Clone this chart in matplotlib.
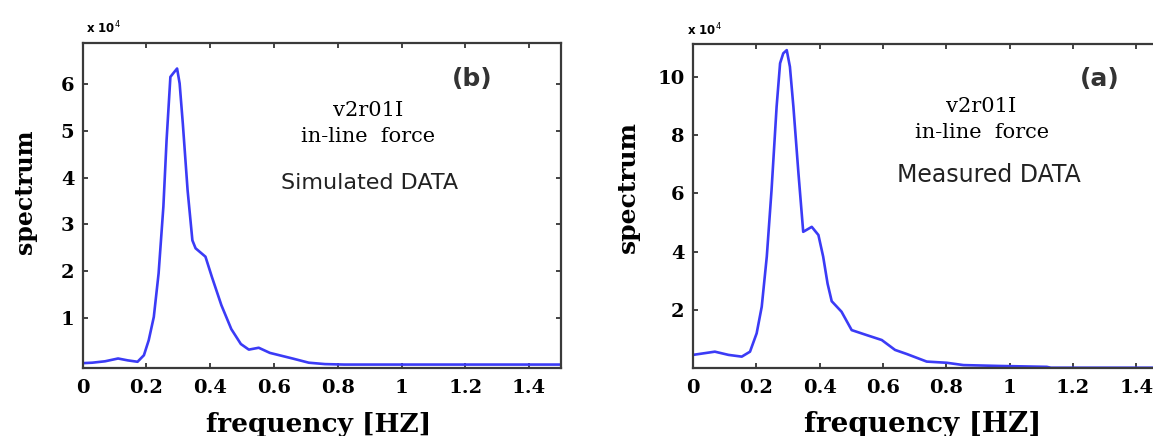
import matplotlib
matplotlib.use("Agg")
import matplotlib.pyplot as plt
import numpy as np
from matplotlib.ticker import FuncFormatter

# in-line force spectrum, simulated (panel b), values in units of 1e4
sim_freq = [0.0, 0.03, 0.07, 0.111, 0.141, 0.172, 0.192, 0.207, 0.223, 0.238,
            0.253, 0.263, 0.275, 0.283, 0.296, 0.304, 0.314, 0.329, 0.344,
            0.354, 0.385, 0.405, 0.435, 0.466, 0.496, 0.521, 0.552, 0.587,
            0.658, 0.709, 0.76, 0.82, 1.0, 1.2, 1.5]
sim_spec = [0.03, 0.04, 0.07, 0.13, 0.09, 0.06, 0.2, 0.52, 1.02, 1.95,
            3.38, 4.8, 6.16, 6.23, 6.34, 6.02, 5.16, 3.73, 2.66,
            2.49, 2.31, 1.88, 1.27, 0.76, 0.44, 0.32, 0.36, 0.25,
            0.13, 0.04, 0.01, 0.0, 0.0, 0.0, 0.0]

# in-line force spectrum, measured (panel a), values in units of 1e4
meas_freq = [0.0, 0.069, 0.112, 0.154, 0.18, 0.201, 0.217, 0.233, 0.248, 0.264,
             0.275, 0.285, 0.296, 0.306, 0.317, 0.333, 0.348, 0.375, 0.396,
             0.411, 0.425, 0.438, 0.469, 0.501, 0.548, 0.596, 0.638, 0.675,
             0.738, 0.801, 0.854, 0.969, 1.117, 1.13, 1.6]
meas_spec = [0.46, 0.57, 0.46, 0.40, 0.57, 1.2, 2.11, 3.83, 6.11, 8.97,
             10.46, 10.8, 10.91, 10.34, 8.97, 6.68, 4.68, 4.85, 4.57,
             3.83, 2.9, 2.3, 1.94, 1.31, 1.14, 0.97, 0.63, 0.49,
             0.23, 0.19, 0.11, 0.08, 0.05, 0.02, 0.02]

xticks = [0, 0.2, 0.4, 0.6, 0.8, 1, 1.2, 1.4]
sim_yticks = [1, 2, 3, 4, 5, 6]
meas_yticks = [2, 4, 6, 8, 10]

W, H = 1153, 436
fig = plt.figure(figsize=(W / 100, H / 100), dpi=100)

line_col = '#3b3bf6'
spine_col = '#3a3a3a'
serif = 'DejaVu Serif'


def fx(px):
    return px / W


def fy(py):
    return 1 - py / H


def setup(ax, yticks):
    for s in ax.spines.values():
        s.set_color(spine_col)
        s.set_linewidth(1.6)
    ax.set_xticks(xticks)
    ax.set_yticks([v * 1e4 for v in yticks])
    ax.xaxis.set_major_formatter(FuncFormatter(lambda v, p: '%g' % v))
    ax.yaxis.set_major_formatter(FuncFormatter(lambda v, p: '%g' % (v / 1e4)))
    ax.tick_params(direction='in', length=3.5, width=1.2, color='#222222',
                   top=True, right=True, labelsize=14)
    ax.tick_params(axis='x', pad=8)
    ax.tick_params(axis='y', pad=6)
    for lab in ax.get_xticklabels() + ax.get_yticklabels():
        lab.set_family(serif)
        lab.set_fontweight('bold')


def labels(xl_x, yl_x, yl_y, size_x, size_y):
    fig.text(fx(xl_x), fy(424), 'frequency [HZ]', family=serif,
             fontweight='bold', fontsize=size_x, ha='center', va='center')
    fig.text(fx(yl_x), fy(yl_y), 'spectrum', family=serif, fontweight='bold',
             fontsize=size_y, rotation=90, ha='center', va='center')


# panel (b): simulated
ax1 = fig.add_axes([fx(82.7), fy(368.3), fx(561 - 82.7), (368.3 - 43.3) / H])
ax1.plot(sim_freq, np.array(sim_spec) * 1e4, color=line_col, lw=1.9)
ax1.set_xlim(0, 1.5)
ax1.set_ylim(-0.08e4, 6.88e4)
setup(ax1, sim_yticks)
labels(319, 25, 192, 19, 17)
fig.text(fx(86), fy(28), r'x 10$^4$', fontsize=8.5, fontweight='bold',
         va='center', ha='left')
fig.text(fx(472), fy(79), '(b)', fontsize=18, fontweight='bold',
         color='#333333', ha='center', va='center')
fig.text(fx(368), fy(110), 'v2r01I', family=serif, fontsize=15,
         ha='center', va='center')
fig.text(fx(368), fy(136), 'in-line  force', family=serif, fontsize=15,
         ha='center', va='center')
fig.text(fx(370), fy(183), 'Simulated DATA', fontsize=16,
         ha='center', va='center', color='#222222')

# panel (a): measured, right edge runs past the figure border
ax2 = fig.add_axes([fx(693), fy(368.3), fx(316.7 * 1.6), (368.3 - 44) / H])
ax2.plot(meas_freq, np.array(meas_spec) * 1e4, color=line_col, lw=1.9)
ax2.set_xlim(0, 1.6)
ax2.set_ylim(0, 11.12e4)
setup(ax2, meas_yticks)
labels(923, 628, 187, 20, 18)
fig.text(fx(687), fy(30), r'x 10$^4$', fontsize=8.5, fontweight='bold',
         va='center', ha='left')
fig.text(fx(1100), fy(79), '(a)', fontsize=18, fontweight='bold',
         color='#333333', ha='center', va='center')
fig.text(fx(981), fy(107), 'v2r01I', family=serif, fontsize=15,
         ha='center', va='center')
fig.text(fx(982), fy(133), 'in-line  force', family=serif, fontsize=15,
         ha='center', va='center')
fig.text(fx(989), fy(175), 'Measured DATA', fontsize=17,
         ha='center', va='center', color='#222222')

fig.savefig('out.png', dpi=100)
